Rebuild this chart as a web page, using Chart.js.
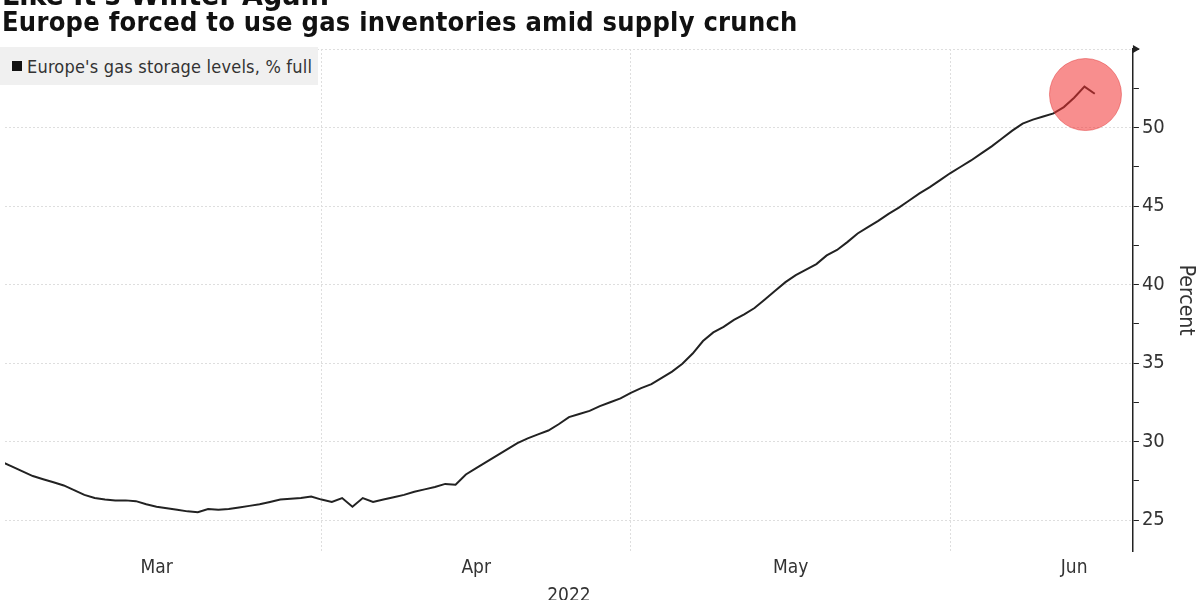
<!DOCTYPE html>
<html lang="en">
<head>
<meta charset="UTF-8">
<title>Europe forced to use gas inventories amid supply crunch</title>
<script src="https://cdn.jsdelivr.net/npm/chart.js"></script>
<style>
  body { margin: 0; width: 1200px; height: 600px; overflow: hidden; background: #fff;
         font-family: 'DejaVu Sans Condensed', 'DejaVu Sans', sans-serif; }
  #wrap { position: relative; width: 1200px; height: 612px; }
  #chart { position: absolute; left: 0; top: 0; }
  #kicker { position: absolute; left: 2px; top: -20px; font-size: 30px; line-height: 30px;
            font-weight: bold; color: #111; white-space: nowrap; }
  #title { position: absolute; left: 2px; top: 8px; font-size: 27px; line-height: 27px;
           letter-spacing: 0.25px; font-weight: bold; color: #111; white-space: nowrap; }
  #legend { position: absolute; left: 0; top: 47px; width: 318px; height: 38px; background: #f0f0f0;
            display: flex; align-items: center; font-size: 18px; letter-spacing: 0.2px; color: #333; z-index: 2; }
  #legend span.box { display: inline-block; width: 10px; height: 10px; background: #111;
                     margin: 0 5px 0 12px; }
</style>
</head>
<body>
<div id="wrap">
  <canvas id="chart" width="1200" height="612"></canvas>
  <div id="kicker">Like It's Winter Again</div>
  <div id="title">Europe forced to use gas inventories amid supply crunch</div>
  <div id="legend"><span class="box"></span>Europe's gas storage levels, % full</div>
</div>

<script>
// day 0 = 1 Mar 2022, one value per day up to 15 Jun
const storageLevels = [
  28.7, 28.4, 28.1, 27.8, 27.6, 27.4, 27.2, 26.9, 26.6, 26.4,
  26.3, 26.25, 26.25, 26.2, 26.0, 25.85, 25.75, 25.65, 25.55, 25.5,
  25.7, 25.65, 25.7, 25.8, 25.9, 26.0, 26.15, 26.3, 26.35, 26.4,
  26.5, 26.3, 26.15, 26.4, 25.85, 26.4, 26.15, 26.3, 26.45, 26.6,
  26.8, 26.95, 27.1, 27.3, 27.25, 27.9, 28.3, 28.7, 29.1, 29.5,
  29.9, 30.2, 30.45, 30.7, 31.1, 31.55, 31.75, 31.95, 32.25, 32.5,
  32.75, 33.1, 33.4, 33.65, 34.05, 34.45, 34.95, 35.6, 36.4, 36.95,
  37.3, 37.75, 38.1, 38.5, 39.05, 39.6, 40.15, 40.6, 40.95, 41.3,
  41.85, 42.2, 42.7, 43.25, 43.65, 44.05, 44.5, 44.9, 45.35, 45.8,
  46.2, 46.65, 47.1, 47.5, 47.9, 48.35, 48.8, 49.3, 49.8, 50.25,
  50.5, 50.7, 50.9, 51.3, 51.9, 52.6, 52.15
];

const monthNames = ['Mar', 'Apr', 'May', 'Jun'];
const monthLabelDays = [15, 46, 76.5, 104];     // where the month names sit
const monthStartDays = [31, 61, 92];            // 1 Apr, 1 May, 1 Jun
const yTicks = [25, 27.5, 30, 32.5, 35, 37.5, 40, 42.5, 45, 47.5, 50, 52.5, 55];
const xMin = 0.3, xMax = 109.7;

// highlighted recent peak
const highlightDay = 105.1;
const highlightValue = 52.1;

// empty ticks at both ends keep Chart.js from padding the plot for labels
const xTicks = [xMin].concat(monthLabelDays, monthStartDays, [xMax]).sort((a, b) => a - b);

const axisArrow = {
  id: 'axisArrow',
  afterDraw(chart) {
    const y = chart.scales.y;
    const ctx = chart.ctx;
    ctx.save();
    ctx.fillStyle = '#222';
    ctx.beginPath();
    ctx.moveTo(y.left, y.top - 4);
    ctx.lineTo(y.left + 7, y.top);
    ctx.lineTo(y.left, y.top + 4);
    ctx.closePath();
    ctx.fill();
    ctx.restore();
  }
};

Chart.defaults.font.family = "'DejaVu Sans Condensed', 'DejaVu Sans', sans-serif";
Chart.defaults.color = '#333';

new Chart(document.getElementById('chart'), {
  type: 'line',
  data: {
    datasets: [
      {
        label: 'highlight',
        type: 'scatter',
        data: [{ x: highlightDay, y: highlightValue }],
        pointRadius: 36,
        pointHoverRadius: 36,
        backgroundColor: 'rgba(242, 50, 50, 0.55)',
        borderColor: 'rgba(225, 60, 60, 0.5)',
        borderWidth: 1,
        clip: false,
        order: 0
      },
      {
        label: "Europe's gas storage levels, % full",
        data: storageLevels.map((v, i) => ({ x: i, y: v })),
        borderColor: '#222',
        borderWidth: 2,
        pointRadius: 0,
        tension: 0,
        order: 1
      }
    ]
  },
  options: {
    responsive: false,
    animation: false,
    layout: { autoPadding: false, padding: { top: 49, left: 0, right: 0, bottom: 0 } },
    plugins: { legend: { display: false }, tooltip: { enabled: false } },
    scales: {
      x: {
        type: 'linear',
        min: xMin,
        max: xMax,
        afterBuildTicks: axis => { axis.ticks = xTicks.map(v => ({ value: v })); },
        ticks: {
          autoSkip: false,
          maxRotation: 0,
          padding: 5,
          font: { size: 19 },
          color: '#333',
          callback: v => {
            const i = monthLabelDays.indexOf(v);
            return i >= 0 ? monthNames[i] : '';
          }
        },
        grid: {
          drawTicks: false,
          color: ctx => (ctx.tick && monthStartDays.includes(ctx.tick.value)) ? '#dedede' : 'rgba(0,0,0,0)',
          lineWidth: 1
        },
        border: { display: false, dash: [2, 2] },
        title: { display: true, text: '2022', font: { size: 19 }, color: '#333', padding: { top: 0, bottom: 5 } }
      },
      y: {
        position: 'right',
        min: 23,
        max: 55,
        afterBuildTicks: axis => { axis.ticks = yTicks.map(v => ({ value: v })); },
        ticks: {
          padding: 3,
          font: { size: 20 },
          color: '#333',
          callback: v => (v % 5 === 0 && v < 55) ? String(v) : ''
        },
        grid: {
          color: ctx => (ctx.tick && ctx.tick.value % 5 === 0) ? '#dedede' : 'rgba(0,0,0,0)',
          tickColor: '#222',
          tickLength: 6,
          lineWidth: 1
        },
        border: { display: true, color: '#222', width: 1.5, dash: [2, 2] },
        title: { display: true, text: 'Percent', font: { size: 21 }, color: '#333', padding: { top: 2, bottom: 5 } }
      }
    }
  },
  plugins: [axisArrow]
});
</script>
</body>
</html>
